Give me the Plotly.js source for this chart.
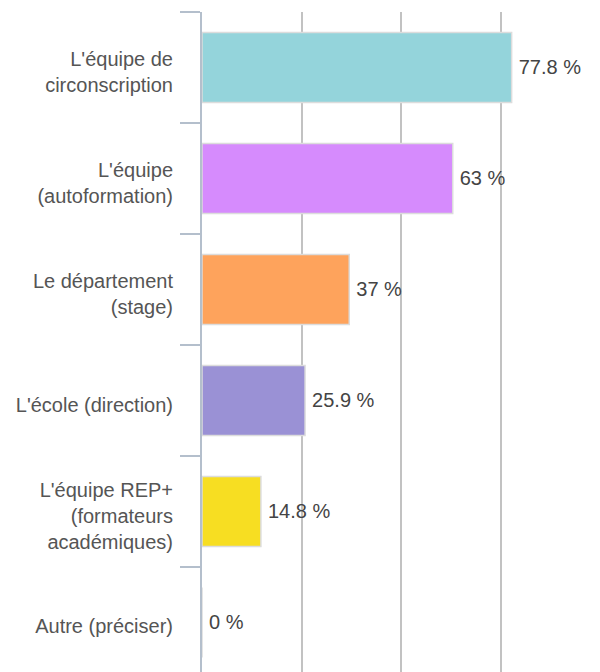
<!DOCTYPE html>
<html>
<head>
<meta charset="utf-8">
<script src="https://cdn.plot.ly/plotly-3.0.1.min.js"></script>
<style>
  html, body { margin: 0; padding: 0; background: #ffffff; overflow: hidden; }
  #chart { width: 600px; height: 672px; }
</style>
</head>
<body>
<div id="chart"></div>
<script>
const categories = [
  "L'équipe de<br>circonscription",
  "L'équipe<br>(autoformation)",
  "Le département<br>(stage)",
  "L'école (direction)",
  "L'équipe REP+<br>(formateurs<br>académiques)",
  "Autre (préciser)"
];
const values = [77.8, 63, 37, 25.9, 14.8, 0];
const valueLabels = ["77.8 %", "63 %", "37 %", "25.9 %", "14.8 %", "0 %"];
const barColors = ["#94d4db", "#d68bfd", "#fea35c", "#9a91d5", "#f7de22", "#cccccc"];

const trace = {
  type: "bar",
  orientation: "h",
  y: categories,
  x: values,
  text: valueLabels.map(t => "\u2009" + t),
  textposition: "outside",
  cliponaxis: false,
  textfont: { family: "Liberation Sans, Arial, sans-serif", size: 20, color: "#444444" },
  marker: { color: barColors, line: { color: "#dcdcdc", width: 1.5 } },
  hoverinfo: "none"
};

const layout = {
  width: 600,
  height: 672,
  margin: { l: 202, r: 0, t: 12, b: 0, pad: 0 },
  paper_bgcolor: "#ffffff",
  plot_bgcolor: "#ffffff",
  showlegend: false,
  bargap: 0.37,
  font: { family: "Liberation Sans, Arial, sans-serif", size: 20, color: "#555555" },
  xaxis: {
    range: [0, 100],
    tickvals: [0, 25, 50, 75, 100],
    showticklabels: false,
    showgrid: true,
    gridcolor: "#c2c2c2",
    gridwidth: 2,
    zeroline: false,
    showline: false,
    ticks: ""
  },
  yaxis: {
    type: "category",
    range: [5.446, -0.5],
    tickson: "boundaries",
    ticks: "outside",
    ticklen: 20,
    tickwidth: 2,
    tickcolor: "#b4bfcc",
    showline: true,
    linecolor: "#b4bfcc",
    linewidth: 2,
    showgrid: false,
    zeroline: false,
    ticklabelstandoff: 23,
    ticklabelshift: -4,
    tickfont: { family: "Liberation Sans, Arial, sans-serif", size: 20, color: "#555555" }
  }
};

Plotly.newPlot("chart", [trace], layout, { displayModeBar: false, staticPlot: true });
</script>
</body>
</html>
